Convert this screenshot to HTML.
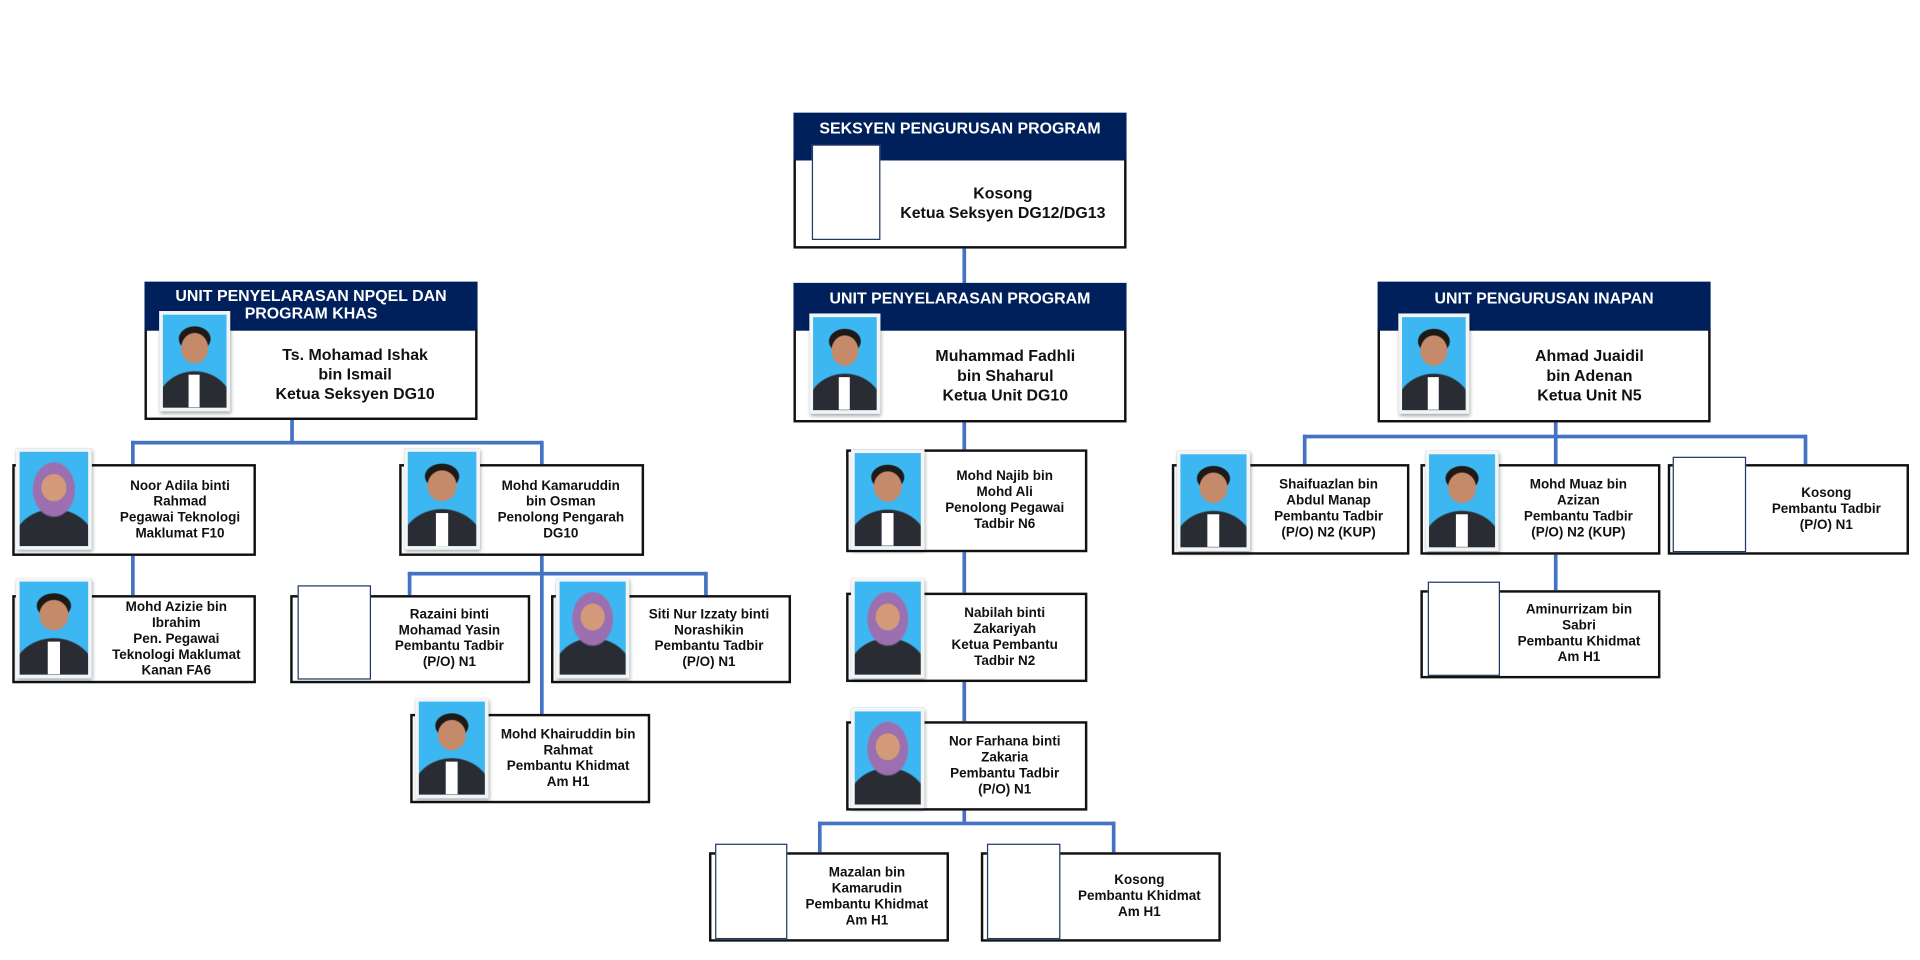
<!DOCTYPE html>
<html><head><meta charset="utf-8">
<style>
html,body{margin:0;padding:0;background:#fff;width:1920px;height:960px;overflow:hidden}
#w{position:absolute;left:0;top:0;width:1568px;height:784px;transform:scale(1.22449);transform-origin:0 0;font-family:"Liberation Sans",Arial,sans-serif;}
.b{position:absolute;border:2px solid #111;background:#fff;box-sizing:border-box}
.h{position:absolute;background:#00205b;color:#fff;font-weight:bold;font-size:13px;text-align:center;box-sizing:border-box;line-height:15px}
.t{position:absolute;display:flex;align-items:center;justify-content:center;text-align:center;font-weight:bold;font-size:11px;line-height:13px;color:#111}
.t.big{font-size:13px;line-height:16px}
.ph{position:absolute;box-sizing:border-box;border:3px solid #f4f4f4;box-shadow:1px 2px 3px rgba(0,0,0,.35);
background:
radial-gradient(ellipse 22% 17% at 50% 36%,#c58a6a 92%,transparent 100%),
radial-gradient(ellipse 26% 14% at 50% 26%,#1e1a18 92%,transparent 100%),
linear-gradient(#fff,#fff) 50% 100%/18% 35% no-repeat,
radial-gradient(ellipse 62% 40% at 50% 100%,#2a2c33 96%,transparent 100%),
#3db7f2}
.ph.hj{background:
radial-gradient(ellipse 19% 15% at 50% 38%,#d39a7a 92%,transparent 100%),
radial-gradient(ellipse 32% 30% at 50% 40%,#9b6fb0 92%,transparent 100%),
radial-gradient(ellipse 62% 40% at 50% 100%,#2a2c33 96%,transparent 100%),
#3db7f2}
.pl{position:absolute;box-sizing:border-box;border:1px solid #1f3864;background:#fff}
.l{position:absolute;background:#4472c4}
</style></head><body><div id="w">

<!-- connectors -->
<div class="l" style="left:786px;top:202px;width:2.5px;height:29px"></div>
<div class="l" style="left:786px;top:345px;width:2.5px;height:328px"></div>
<div class="l" style="left:669px;top:671px;width:241px;height:2.5px"></div>
<div class="l" style="left:668px;top:671px;width:2.5px;height:26px"></div>
<div class="l" style="left:908px;top:671px;width:2.5px;height:26px"></div>

<div class="l" style="left:237px;top:342px;width:2.5px;height:19px"></div>
<div class="l" style="left:107px;top:360px;width:336px;height:2.5px"></div>
<div class="l" style="left:107px;top:360px;width:2.5px;height:127px"></div>
<div class="l" style="left:441px;top:360px;width:2.5px;height:224px"></div>
<div class="l" style="left:333px;top:467px;width:244px;height:2.5px"></div>
<div class="l" style="left:333px;top:467px;width:2.5px;height:20px"></div>
<div class="l" style="left:575px;top:467px;width:2.5px;height:20px"></div>

<div class="l" style="left:1269px;top:345px;width:2.5px;height:138px"></div>
<div class="l" style="left:1064px;top:355px;width:411px;height:2.5px"></div>
<div class="l" style="left:1064px;top:355px;width:2.5px;height:25px"></div>
<div class="l" style="left:1473px;top:355px;width:2.5px;height:25px"></div>

<!-- top section -->
<div class="b" style="left:648px;top:129px;width:272px;height:74px"></div>
<div class="h" style="left:648px;top:92px;width:272px;height:39px;padding-top:5px">SEKSYEN PENGURUSAN PROGRAM</div>
<div class="pl" style="left:663px;top:118px;width:56px;height:78px"></div>
<div class="t big" style="left:719px;top:131px;width:200px;height:70px">Kosong<br>Ketua Seksyen DG12/DG13</div>

<!-- Unit Penyelarasan Program -->
<div class="b" style="left:648px;top:268px;width:272px;height:77px"></div>
<div class="h" style="left:648px;top:231px;width:272px;height:39px;padding-top:5px">UNIT PENYELARASAN PROGRAM</div>
<div class="ph" style="left:661px;top:256px;width:58px;height:82px"></div>
<div class="t big" style="left:722px;top:270px;width:198px;height:74px">Muhammad Fadhli<br>bin Shaharul<br>Ketua Unit DG10</div>

<!-- Left unit -->
<div class="b" style="left:118px;top:268px;width:272px;height:75px"></div>
<div class="h" style="left:118px;top:230px;width:272px;height:40px;padding-top:5px;line-height:14px">UNIT PENYELARASAN NPQEL DAN<br>PROGRAM KHAS</div>
<div class="ph" style="left:130px;top:254px;width:58px;height:82px"></div>
<div class="t big" style="left:192px;top:270px;width:196px;height:72px">Ts. Mohamad Ishak<br>bin Ismail<br>Ketua Seksyen DG10</div>

<!-- Right unit -->
<div class="b" style="left:1125px;top:268px;width:272px;height:77px"></div>
<div class="h" style="left:1125px;top:230px;width:272px;height:40px;padding-top:6px">UNIT PENGURUSAN INAPAN</div>
<div class="ph" style="left:1142px;top:256px;width:58px;height:82px"></div>
<div class="t big" style="left:1200px;top:270px;width:196px;height:74px">Ahmad Juaidil<br>bin Adenan<br>Ketua Unit N5</div>

<!-- Left subtree -->
<div class="b" style="left:10px;top:379px;width:199px;height:75px"></div>
<div class="ph hj" style="left:13px;top:366px;width:62px;height:83px"></div>
<div class="t" style="left:86px;top:381px;width:122px;height:71px">Noor Adila binti<br>Rahmad<br>Pegawai Teknologi<br>Maklumat F10</div>

<div class="b" style="left:10px;top:486px;width:199px;height:72px"></div>
<div class="ph" style="left:13px;top:472px;width:62px;height:82px"></div>
<div class="t" style="left:80px;top:488px;width:128px;height:68px">Mohd Azizie bin<br>Ibrahim<br>Pen. Pegawai<br>Teknologi Maklumat<br>Kanan FA6</div>

<div class="b" style="left:326px;top:379px;width:200px;height:75px"></div>
<div class="ph" style="left:330px;top:366px;width:62px;height:83px"></div>
<div class="t" style="left:392px;top:381px;width:132px;height:71px">Mohd Kamaruddin<br>bin Osman<br>Penolong Pengarah<br>DG10</div>

<div class="b" style="left:237px;top:486px;width:196px;height:72px"></div>
<div class="pl" style="left:243px;top:478px;width:60px;height:77px"></div>
<div class="t" style="left:303px;top:488px;width:128px;height:68px">Razaini binti<br>Mohamad Yasin<br>Pembantu Tadbir<br>(P/O) N1</div>

<div class="b" style="left:450px;top:486px;width:196px;height:72px"></div>
<div class="ph hj" style="left:454px;top:472px;width:60px;height:82px"></div>
<div class="t" style="left:514px;top:488px;width:130px;height:68px">Siti Nur Izzaty binti<br>Norashikin<br>Pembantu Tadbir<br>(P/O) N1</div>

<div class="b" style="left:335px;top:583px;width:196px;height:73px"></div>
<div class="ph" style="left:339px;top:570px;width:60px;height:82px"></div>
<div class="t" style="left:399px;top:585px;width:130px;height:69px">Mohd Khairuddin bin<br>Rahmat<br>Pembantu Khidmat<br>Am H1</div>

<!-- Center subtree -->
<div class="b" style="left:691px;top:367px;width:197px;height:84px"></div>
<div class="ph" style="left:695px;top:367px;width:60px;height:82px"></div>
<div class="t" style="left:755px;top:369px;width:131px;height:80px">Mohd Najib bin<br>Mohd Ali<br>Penolong Pegawai<br>Tadbir N6</div>

<div class="b" style="left:691px;top:484px;width:197px;height:73px"></div>
<div class="ph hj" style="left:695px;top:472px;width:60px;height:82px"></div>
<div class="t" style="left:755px;top:486px;width:131px;height:69px">Nabilah binti<br>Zakariyah<br>Ketua Pembantu<br>Tadbir N2</div>

<div class="b" style="left:691px;top:589px;width:197px;height:73px"></div>
<div class="ph hj" style="left:695px;top:578px;width:60px;height:82px"></div>
<div class="t" style="left:755px;top:591px;width:131px;height:69px">Nor Farhana binti<br>Zakaria<br>Pembantu Tadbir<br>(P/O) N1</div>

<div class="b" style="left:579px;top:696px;width:196px;height:73px"></div>
<div class="pl" style="left:584px;top:689px;width:59px;height:78px"></div>
<div class="t" style="left:643px;top:698px;width:130px;height:69px">Mazalan bin<br>Kamarudin<br>Pembantu Khidmat<br>Am H1</div>

<div class="b" style="left:801px;top:696px;width:196px;height:73px"></div>
<div class="pl" style="left:806px;top:689px;width:60px;height:78px"></div>
<div class="t" style="left:866px;top:698px;width:129px;height:69px">Kosong<br>Pembantu Khidmat<br>Am H1</div>

<!-- Right subtree -->
<div class="b" style="left:957px;top:379px;width:194px;height:74px"></div>
<div class="ph" style="left:961px;top:368px;width:60px;height:82px"></div>
<div class="t" style="left:1021px;top:381px;width:128px;height:70px">Shaifuazlan bin<br>Abdul Manap<br>Pembantu Tadbir<br>(P/O) N2 (KUP)</div>

<div class="b" style="left:1160px;top:379px;width:196px;height:74px"></div>
<div class="ph" style="left:1164px;top:368px;width:60px;height:82px"></div>
<div class="t" style="left:1224px;top:381px;width:130px;height:70px">Mohd Muaz bin<br>Azizan<br>Pembantu Tadbir<br>(P/O) N2 (KUP)</div>

<div class="b" style="left:1362px;top:379px;width:197px;height:74px"></div>
<div class="pl" style="left:1366px;top:373px;width:60px;height:78px"></div>
<div class="t" style="left:1426px;top:381px;width:131px;height:70px">Kosong<br>Pembantu Tadbir<br>(P/O) N1</div>

<div class="b" style="left:1160px;top:482px;width:196px;height:72px"></div>
<div class="pl" style="left:1166px;top:475px;width:59px;height:77px"></div>
<div class="t" style="left:1225px;top:484px;width:129px;height:68px">Aminurrizam bin<br>Sabri<br>Pembantu Khidmat<br>Am H1</div>

</div></body></html>
